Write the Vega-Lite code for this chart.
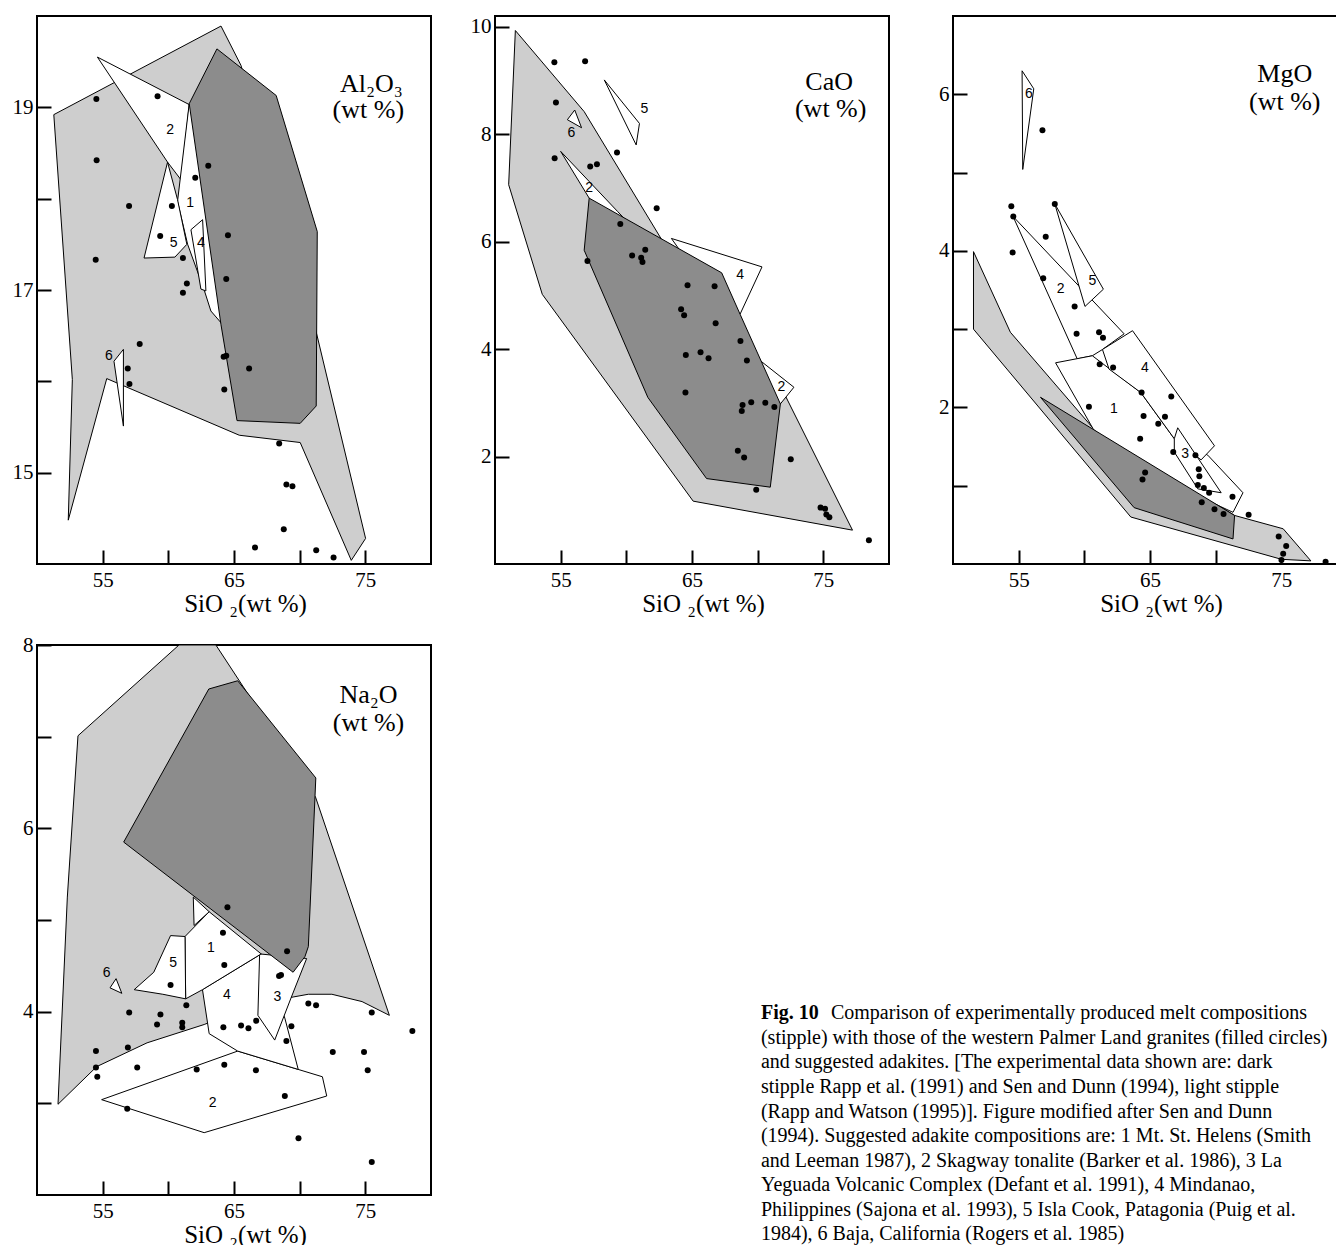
{
  "$schema": "https://vega.github.io/schema/vega-lite/v6.json",
  "background": "white",
  "padding": {"left": 11, "top": 14, "right": 0, "bottom": 0},
  "config": {
    "view": {"stroke": "black", "strokeWidth": 2},
    "font": "Liberation Serif",
    "axis": {"labelFont": "Liberation Serif", "labelFontSize": 21, "labelColor": "black", "tickColor": "black", "tickWidth": 2, "tickSize": -14, "domain": false, "grid": false, "titleFont": "Liberation Serif", "titleFontSize": 25, "titleFontWeight": "normal", "titleColor": "black"},
    "axisX": {"labelPadding": 19, "titlePadding": 1, "titleX": 208},
    "axisY": {"labelPadding": 18}
  },
  "datasets": {
    "poly": [
      {"p":"A","k":"L","g":"AL","i":0,"x":51.28,"y":18.92},{"p":"A","k":"L","g":"AL","i":1,"x":64.01,"y":19.89},{"p":"A","k":"L","g":"AL","i":2,"x":65.53,"y":19.46},{"p":"A","k":"L","g":"AL","i":3,"x":71.26,"y":16.54},{"p":"A","k":"L","g":"AL","i":4,"x":75.02,"y":14.28},{"p":"A","k":"L","g":"AL","i":5,"x":73.93,"y":14.04},{"p":"A","k":"L","g":"AL","i":6,"x":70.04,"y":15.33},{"p":"A","k":"L","g":"AL","i":7,"x":65.40,"y":15.41},{"p":"A","k":"L","g":"AL","i":8,"x":55.31,"y":16.03},{"p":"A","k":"L","g":"AL","i":9,"x":52.38,"y":14.48},{"p":"A","k":"L","g":"AL","i":10,"x":52.69,"y":16.02},{"p":"A","k":"L","g":"AL","i":11,"x":51.28,"y":18.92},
      {"p":"A","k":"W","g":"AW2","i":0,"x":54.60,"y":19.55},{"p":"A","k":"W","g":"AW2","i":1,"x":61.59,"y":19.03},{"p":"A","k":"W","g":"AW2","i":2,"x":61.0,"y":18.2},{"p":"A","k":"W","g":"AW2","i":3,"x":59.94,"y":18.40},{"p":"A","k":"W","g":"AW2","i":4,"x":54.60,"y":19.55},
      {"p":"A","k":"W","g":"AW1","i":0,"x":61.59,"y":19.04},{"p":"A","k":"W","g":"AW1","i":1,"x":60.70,"y":17.97},{"p":"A","k":"W","g":"AW1","i":2,"x":61.47,"y":17.50},{"p":"A","k":"W","g":"AW1","i":3,"x":62.73,"y":17.00},{"p":"A","k":"W","g":"AW1","i":4,"x":63.24,"y":16.77},{"p":"A","k":"W","g":"AW1","i":5,"x":64.14,"y":16.62},{"p":"A","k":"W","g":"AW1","i":6,"x":65.53,"y":17.99},{"p":"A","k":"W","g":"AW1","i":7,"x":62.86,"y":18.97},{"p":"A","k":"W","g":"AW1","i":8,"x":61.59,"y":19.04},
      {"p":"A","k":"W","g":"AW5","i":0,"x":59.94,"y":18.40},{"p":"A","k":"W","g":"AW5","i":1,"x":60.70,"y":17.99},{"p":"A","k":"W","g":"AW5","i":2,"x":61.41,"y":17.50},{"p":"A","k":"W","g":"AW5","i":3,"x":60.50,"y":17.36},{"p":"A","k":"W","g":"AW5","i":4,"x":58.15,"y":17.35},{"p":"A","k":"W","g":"AW5","i":5,"x":59.94,"y":18.40},
      {"p":"A","k":"W","g":"AW4","i":0,"x":61.72,"y":17.66},{"p":"A","k":"W","g":"AW4","i":1,"x":62.61,"y":17.77},{"p":"A","k":"W","g":"AW4","i":2,"x":62.86,"y":16.99},{"p":"A","k":"W","g":"AW4","i":3,"x":62.48,"y":17.01},{"p":"A","k":"W","g":"AW4","i":4,"x":61.72,"y":17.66},
      {"p":"A","k":"W","g":"AW6","i":0,"x":55.86,"y":16.22},{"p":"A","k":"W","g":"AW6","i":1,"x":56.58,"y":16.35},{"p":"A","k":"W","g":"AW6","i":2,"x":56.58,"y":15.51},{"p":"A","k":"W","g":"AW6","i":3,"x":55.86,"y":16.22},
      {"p":"A","k":"D","g":"AD","i":0,"x":63.70,"y":19.64},{"p":"A","k":"D","g":"AD","i":1,"x":68.21,"y":19.13},{"p":"A","k":"D","g":"AD","i":2,"x":71.34,"y":17.64},{"p":"A","k":"D","g":"AD","i":3,"x":71.26,"y":15.73},{"p":"A","k":"D","g":"AD","i":4,"x":70.04,"y":15.54},{"p":"A","k":"D","g":"AD","i":5,"x":65.23,"y":15.57},{"p":"A","k":"D","g":"AD","i":6,"x":64.01,"y":16.62},{"p":"A","k":"D","g":"AD","i":7,"x":61.59,"y":19.04},{"p":"A","k":"D","g":"AD","i":8,"x":63.70,"y":19.64},

      {"p":"C","k":"L","g":"CL","i":0,"x":51.55,"y":9.93},{"p":"C","k":"L","g":"CL","i":1,"x":56.79,"y":8.42},{"p":"C","k":"L","g":"CL","i":2,"x":62.66,"y":6.05},{"p":"C","k":"L","g":"CL","i":3,"x":72.11,"y":3.13},{"p":"C","k":"L","g":"CL","i":4,"x":77.22,"y":0.63},{"p":"C","k":"L","g":"CL","i":5,"x":65.09,"y":1.17},{"p":"C","k":"L","g":"CL","i":6,"x":53.60,"y":5.02},{"p":"C","k":"L","g":"CL","i":7,"x":51.04,"y":7.06},{"p":"C","k":"L","g":"CL","i":8,"x":51.55,"y":9.93},
      {"p":"C","k":"W","g":"CW2","i":0,"x":55.0,"y":7.68},{"p":"C","k":"W","g":"CW2","i":1,"x":59.34,"y":6.56},{"p":"C","k":"W","g":"CW2","i":2,"x":70.07,"y":3.81},{"p":"C","k":"W","g":"CW2","i":3,"x":72.76,"y":3.29},{"p":"C","k":"W","g":"CW2","i":4,"x":71.73,"y":2.98},{"p":"C","k":"W","g":"CW2","i":5,"x":57.17,"y":6.81},{"p":"C","k":"W","g":"CW2","i":6,"x":55.0,"y":7.68},
      {"p":"C","k":"W","g":"CW4","i":0,"x":63.43,"y":6.06},{"p":"C","k":"W","g":"CW4","i":1,"x":70.33,"y":5.53},{"p":"C","k":"W","g":"CW4","i":2,"x":68.66,"y":4.65},{"p":"C","k":"W","g":"CW4","i":3,"x":65.73,"y":5.27},{"p":"C","k":"W","g":"CW4","i":4,"x":63.43,"y":6.06},
      {"p":"C","k":"W","g":"CW5","i":0,"x":58.32,"y":9.01},{"p":"C","k":"W","g":"CW5","i":1,"x":61.0,"y":8.20},{"p":"C","k":"W","g":"CW5","i":2,"x":60.75,"y":7.80},{"p":"C","k":"W","g":"CW5","i":3,"x":58.32,"y":9.01},
      {"p":"C","k":"W","g":"CW6","i":0,"x":55.51,"y":8.27},{"p":"C","k":"W","g":"CW6","i":1,"x":56.07,"y":8.45},{"p":"C","k":"W","g":"CW6","i":2,"x":56.59,"y":8.12},{"p":"C","k":"W","g":"CW6","i":3,"x":55.51,"y":8.27},
      {"p":"C","k":"D","g":"CD","i":0,"x":57.17,"y":6.81},{"p":"C","k":"D","g":"CD","i":1,"x":67.26,"y":5.42},{"p":"C","k":"D","g":"CD","i":2,"x":68.66,"y":4.65},{"p":"C","k":"D","g":"CD","i":3,"x":71.73,"y":2.98},{"p":"C","k":"D","g":"CD","i":4,"x":70.96,"y":1.43},{"p":"C","k":"D","g":"CD","i":5,"x":66.11,"y":1.59},{"p":"C","k":"D","g":"CD","i":6,"x":61.64,"y":3.10},{"p":"C","k":"D","g":"CD","i":7,"x":56.79,"y":5.84},{"p":"C","k":"D","g":"CD","i":8,"x":57.17,"y":6.81},

      {"p":"M","k":"L","g":"ML","i":0,"x":51.56,"y":3.99},{"p":"M","k":"L","g":"ML","i":1,"x":54.37,"y":2.96},{"p":"M","k":"L","g":"ML","i":2,"x":60.69,"y":1.73},{"p":"M","k":"L","g":"ML","i":3,"x":71.44,"y":0.62},{"p":"M","k":"L","g":"ML","i":4,"x":75.14,"y":0.45},{"p":"M","k":"L","g":"ML","i":5,"x":77.25,"y":0.04},{"p":"M","k":"L","g":"ML","i":6,"x":75.01,"y":0.06},{"p":"M","k":"L","g":"ML","i":7,"x":63.54,"y":0.60},{"p":"M","k":"L","g":"ML","i":8,"x":51.56,"y":3.00},{"p":"M","k":"L","g":"ML","i":9,"x":51.56,"y":3.99},
      {"p":"M","k":"W","g":"MW2","i":0,"x":54.57,"y":4.44},{"p":"M","k":"W","g":"MW2","i":1,"x":63.03,"y":2.94},{"p":"M","k":"W","g":"MW2","i":2,"x":61.38,"y":2.74},{"p":"M","k":"W","g":"MW2","i":3,"x":60.61,"y":2.66},{"p":"M","k":"W","g":"MW2","i":4,"x":59.46,"y":2.62},{"p":"M","k":"W","g":"MW2","i":5,"x":54.57,"y":4.44},
      {"p":"M","k":"W","g":"MW5","i":0,"x":57.75,"y":4.60},{"p":"M","k":"W","g":"MW5","i":1,"x":61.45,"y":3.51},{"p":"M","k":"W","g":"MW5","i":2,"x":60.05,"y":3.29},{"p":"M","k":"W","g":"MW5","i":3,"x":57.75,"y":4.60},
      {"p":"M","k":"W","g":"MW6","i":0,"x":55.26,"y":6.30},{"p":"M","k":"W","g":"MW6","i":1,"x":56.15,"y":6.07},{"p":"M","k":"W","g":"MW6","i":2,"x":55.31,"y":5.04},{"p":"M","k":"W","g":"MW6","i":3,"x":55.26,"y":6.30},
      {"p":"M","k":"W","g":"MW1","i":0,"x":57.81,"y":2.57},{"p":"M","k":"W","g":"MW1","i":1,"x":60.61,"y":2.66},{"p":"M","k":"W","g":"MW1","i":2,"x":64.30,"y":2.19},{"p":"M","k":"W","g":"MW1","i":3,"x":66.85,"y":1.60},{"p":"M","k":"W","g":"MW1","i":4,"x":69.40,"y":1.39},{"p":"M","k":"W","g":"MW1","i":5,"x":72.08,"y":0.91},{"p":"M","k":"W","g":"MW1","i":6,"x":71.32,"y":0.66},{"p":"M","k":"W","g":"MW1","i":7,"x":64.30,"y":1.21},{"p":"M","k":"W","g":"MW1","i":8,"x":60.69,"y":1.72},{"p":"M","k":"W","g":"MW1","i":9,"x":57.81,"y":2.57},
      {"p":"M","k":"W","g":"MW4","i":0,"x":61.38,"y":2.74},{"p":"M","k":"W","g":"MW4","i":1,"x":63.67,"y":2.98},{"p":"M","k":"W","g":"MW4","i":2,"x":69.91,"y":1.51},{"p":"M","k":"W","g":"MW4","i":3,"x":68.89,"y":1.33},{"p":"M","k":"W","g":"MW4","i":4,"x":66.85,"y":1.60},{"p":"M","k":"W","g":"MW4","i":5,"x":64.30,"y":2.19},{"p":"M","k":"W","g":"MW4","i":6,"x":61.88,"y":2.49},{"p":"M","k":"W","g":"MW4","i":7,"x":61.38,"y":2.74},
      {"p":"M","k":"W","g":"MW3","i":0,"x":67.11,"y":1.74},{"p":"M","k":"W","g":"MW3","i":1,"x":70.42,"y":0.91},{"p":"M","k":"W","g":"MW3","i":2,"x":68.64,"y":0.96},{"p":"M","k":"W","g":"MW3","i":3,"x":66.85,"y":1.43},{"p":"M","k":"W","g":"MW3","i":4,"x":66.85,"y":1.60},{"p":"M","k":"W","g":"MW3","i":5,"x":67.11,"y":1.74},
      {"p":"M","k":"D","g":"MD","i":0,"x":56.66,"y":2.13},{"p":"M","k":"D","g":"MD","i":1,"x":71.44,"y":0.62},{"p":"M","k":"D","g":"MD","i":2,"x":71.32,"y":0.32},{"p":"M","k":"D","g":"MD","i":3,"x":63.79,"y":0.72},{"p":"M","k":"D","g":"MD","i":4,"x":56.66,"y":2.13},

      {"p":"N","k":"L","g":"NL","i":0,"x":60.81,"y":8.0},{"p":"N","k":"L","g":"NL","i":1,"x":63.62,"y":8.0},{"p":"N","k":"L","g":"NL","i":2,"x":71.21,"y":6.34},{"p":"N","k":"L","g":"NL","i":3,"x":76.83,"y":3.96},{"p":"N","k":"L","g":"NL","i":4,"x":74.75,"y":4.11},{"p":"N","k":"L","g":"NL","i":5,"x":72.45,"y":4.19},{"p":"N","k":"L","g":"NL","i":6,"x":70.66,"y":4.19},{"p":"N","k":"L","g":"NL","i":7,"x":69.50,"y":4.16},{"p":"N","k":"L","g":"NL","i":8,"x":66.05,"y":4.05},{"p":"N","k":"L","g":"NL","i":9,"x":62.73,"y":3.86},{"p":"N","k":"L","g":"NL","i":10,"x":58.38,"y":3.66},{"p":"N","k":"L","g":"NL","i":11,"x":54.54,"y":3.40},{"p":"N","k":"L","g":"NL","i":12,"x":51.6,"y":2.99},{"p":"N","k":"L","g":"NL","i":13,"x":52.31,"y":5.25},{"p":"N","k":"L","g":"NL","i":14,"x":53.12,"y":7.01},{"p":"N","k":"L","g":"NL","i":15,"x":60.81,"y":8.0},
      {"p":"N","k":"W","g":"NW2","i":0,"x":54.92,"y":3.04},{"p":"N","k":"W","g":"NW2","i":1,"x":65.28,"y":3.57},{"p":"N","k":"W","g":"NW2","i":2,"x":71.73,"y":3.29},{"p":"N","k":"W","g":"NW2","i":3,"x":72.06,"y":3.08},{"p":"N","k":"W","g":"NW2","i":4,"x":62.73,"y":2.68},{"p":"N","k":"W","g":"NW2","i":5,"x":54.92,"y":3.04},
      {"p":"N","k":"W","g":"NW4","i":0,"x":62.60,"y":4.24},{"p":"N","k":"W","g":"NW4","i":1,"x":67.07,"y":4.63},{"p":"N","k":"W","g":"NW4","i":2,"x":68.87,"y":3.93},{"p":"N","k":"W","g":"NW4","i":3,"x":69.89,"y":3.37},{"p":"N","k":"W","g":"NW4","i":4,"x":65.28,"y":3.57},{"p":"N","k":"W","g":"NW4","i":5,"x":63.11,"y":3.76},{"p":"N","k":"W","g":"NW4","i":6,"x":62.60,"y":4.24},
      {"p":"N","k":"W","g":"NW3","i":0,"x":66.95,"y":4.63},{"p":"N","k":"W","g":"NW3","i":1,"x":70.53,"y":4.58},{"p":"N","k":"W","g":"NW3","i":2,"x":69.37,"y":4.16},{"p":"N","k":"W","g":"NW3","i":3,"x":68.10,"y":3.69},{"p":"N","k":"W","g":"NW3","i":4,"x":66.82,"y":3.96},{"p":"N","k":"W","g":"NW3","i":5,"x":66.95,"y":4.63},
      {"p":"N","k":"W","g":"NW1","i":0,"x":61.27,"y":4.82},{"p":"N","k":"W","g":"NW1","i":1,"x":63.11,"y":5.09},{"p":"N","k":"W","g":"NW1","i":2,"x":67.07,"y":4.63},{"p":"N","k":"W","g":"NW1","i":3,"x":62.60,"y":4.24},{"p":"N","k":"W","g":"NW1","i":4,"x":61.32,"y":4.14},{"p":"N","k":"W","g":"NW1","i":5,"x":61.27,"y":4.82},
      {"p":"N","k":"W","g":"NW1b","i":0,"x":61.9,"y":5.25},{"p":"N","k":"W","g":"NW1b","i":1,"x":63.11,"y":5.09},{"p":"N","k":"W","g":"NW1b","i":2,"x":61.96,"y":4.94},{"p":"N","k":"W","g":"NW1b","i":3,"x":61.9,"y":5.25},
      {"p":"N","k":"W","g":"NW5","i":0,"x":60.17,"y":4.83},{"p":"N","k":"W","g":"NW5","i":1,"x":61.27,"y":4.82},{"p":"N","k":"W","g":"NW5","i":2,"x":61.32,"y":4.14},{"p":"N","k":"W","g":"NW5","i":3,"x":59.58,"y":4.19},{"p":"N","k":"W","g":"NW5","i":4,"x":57.40,"y":4.24},{"p":"N","k":"W","g":"NW5","i":5,"x":58.89,"y":4.43},{"p":"N","k":"W","g":"NW5","i":6,"x":60.17,"y":4.83},
      {"p":"N","k":"W","g":"NW6","i":0,"x":55.56,"y":4.26},{"p":"N","k":"W","g":"NW6","i":1,"x":56.02,"y":4.36},{"p":"N","k":"W","g":"NW6","i":2,"x":56.46,"y":4.20},{"p":"N","k":"W","g":"NW6","i":3,"x":55.56,"y":4.26},
      {"p":"N","k":"D","g":"ND","i":0,"x":63.08,"y":7.52},{"p":"N","k":"D","g":"ND","i":1,"x":65.28,"y":7.61},{"p":"N","k":"D","g":"ND","i":2,"x":71.23,"y":6.55},{"p":"N","k":"D","g":"ND","i":3,"x":70.66,"y":4.71},{"p":"N","k":"D","g":"ND","i":4,"x":70.40,"y":4.60},{"p":"N","k":"D","g":"ND","i":5,"x":69.50,"y":4.43},{"p":"N","k":"D","g":"ND","i":6,"x":56.6,"y":5.85},{"p":"N","k":"D","g":"ND","i":7,"x":63.08,"y":7.52}
    ],
    "pts": [
      {"p":"A","x":54.52,"y":19.09},{"p":"A","x":59.18,"y":19.12},{"p":"A","x":54.54,"y":18.42},{"p":"A","x":63.04,"y":18.36},{"p":"A","x":62.05,"y":18.23},{"p":"A","x":57.01,"y":17.92},{"p":"A","x":60.27,"y":17.92},{"p":"A","x":59.38,"y":17.59},{"p":"A","x":64.54,"y":17.60},{"p":"A","x":54.47,"y":17.33},{"p":"A","x":61.11,"y":17.35},{"p":"A","x":61.41,"y":17.07},{"p":"A","x":61.11,"y":16.97},{"p":"A","x":64.41,"y":17.12},{"p":"A","x":57.82,"y":16.41},{"p":"A","x":56.91,"y":16.14},{"p":"A","x":57.04,"y":15.97},{"p":"A","x":64.21,"y":16.27},{"p":"A","x":64.41,"y":16.28},{"p":"A","x":66.15,"y":16.14},{"p":"A","x":64.26,"y":15.91},{"p":"A","x":68.44,"y":15.32},{"p":"A","x":68.99,"y":14.87},{"p":"A","x":69.45,"y":14.85},{"p":"A","x":68.79,"y":14.38},{"p":"A","x":66.60,"y":14.18},{"p":"A","x":71.26,"y":14.15},{"p":"A","x":72.58,"y":14.07},
      {"p":"C","x":54.52,"y":9.34},{"p":"C","x":56.86,"y":9.36},{"p":"C","x":54.64,"y":8.59},{"p":"C","x":59.29,"y":7.66},{"p":"C","x":54.54,"y":7.55},{"p":"C","x":57.25,"y":7.40},{"p":"C","x":57.76,"y":7.44},{"p":"C","x":62.31,"y":6.62},{"p":"C","x":59.54,"y":6.33},{"p":"C","x":57.04,"y":5.64},{"p":"C","x":60.44,"y":5.74},{"p":"C","x":61.44,"y":5.85},{"p":"C","x":61.13,"y":5.70},{"p":"C","x":61.23,"y":5.62},{"p":"C","x":64.66,"y":5.19},{"p":"C","x":66.72,"y":5.17},{"p":"C","x":64.17,"y":4.74},{"p":"C","x":64.40,"y":4.63},{"p":"C","x":66.80,"y":4.48},{"p":"C","x":68.69,"y":4.15},{"p":"C","x":64.53,"y":3.89},{"p":"C","x":65.65,"y":3.94},{"p":"C","x":66.26,"y":3.83},{"p":"C","x":69.18,"y":3.79},{"p":"C","x":64.50,"y":3.19},{"p":"C","x":68.85,"y":2.96},{"p":"C","x":68.79,"y":2.85},{"p":"C","x":69.51,"y":3.01},{"p":"C","x":70.58,"y":3.00},{"p":"C","x":71.27,"y":2.92},{"p":"C","x":68.49,"y":2.11},{"p":"C","x":68.97,"y":1.98},{"p":"C","x":72.52,"y":1.95},{"p":"C","x":69.89,"y":1.38},{"p":"C","x":74.79,"y":1.05},{"p":"C","x":75.13,"y":1.03},{"p":"C","x":75.23,"y":0.92},{"p":"C","x":75.46,"y":0.87},{"p":"C","x":78.47,"y":0.44},
      {"p":"M","x":56.81,"y":5.54},{"p":"M","x":54.44,"y":4.57},{"p":"M","x":54.59,"y":4.44},{"p":"M","x":57.75,"y":4.60},{"p":"M","x":57.06,"y":4.18},{"p":"M","x":54.54,"y":3.98},{"p":"M","x":56.87,"y":3.65},{"p":"M","x":59.26,"y":3.29},{"p":"M","x":59.41,"y":2.94},{"p":"M","x":61.12,"y":2.96},{"p":"M","x":61.42,"y":2.89},{"p":"M","x":61.17,"y":2.55},{"p":"M","x":62.19,"y":2.51},{"p":"M","x":64.36,"y":2.19},{"p":"M","x":66.62,"y":2.14},{"p":"M","x":60.35,"y":2.01},{"p":"M","x":64.51,"y":1.89},{"p":"M","x":66.14,"y":1.88},{"p":"M","x":65.63,"y":1.79},{"p":"M","x":64.25,"y":1.60},{"p":"M","x":66.77,"y":1.43},{"p":"M","x":68.46,"y":1.39},{"p":"M","x":64.63,"y":1.17},{"p":"M","x":64.43,"y":1.08},{"p":"M","x":68.71,"y":1.21},{"p":"M","x":68.76,"y":1.12},{"p":"M","x":68.64,"y":1.01},{"p":"M","x":69.10,"y":0.97},{"p":"M","x":69.50,"y":0.91},{"p":"M","x":71.28,"y":0.86},{"p":"M","x":68.94,"y":0.79},{"p":"M","x":69.91,"y":0.70},{"p":"M","x":70.60,"y":0.64},{"p":"M","x":72.51,"y":0.63},{"p":"M","x":74.80,"y":0.35},{"p":"M","x":75.37,"y":0.23},{"p":"M","x":75.14,"y":0.13},{"p":"M","x":75.01,"y":0.05},{"p":"M","x":78.37,"y":0.03},
      {"p":"N","x":64.5,"y":5.14},{"p":"N","x":64.16,"y":4.86},{"p":"N","x":69.04,"y":4.66},{"p":"N","x":64.26,"y":4.51},{"p":"N","x":68.43,"y":4.39},{"p":"N","x":68.58,"y":4.40},{"p":"N","x":60.17,"y":4.29},{"p":"N","x":61.37,"y":4.07},{"p":"N","x":70.66,"y":4.09},{"p":"N","x":71.25,"y":4.07},{"p":"N","x":57.02,"y":3.99},{"p":"N","x":59.40,"y":3.97},{"p":"N","x":75.49,"y":3.99},{"p":"N","x":61.06,"y":3.88},{"p":"N","x":61.06,"y":3.83},{"p":"N","x":59.14,"y":3.86},{"p":"N","x":64.19,"y":3.83},{"p":"N","x":65.54,"y":3.85},{"p":"N","x":66.10,"y":3.82},{"p":"N","x":66.69,"y":3.90},{"p":"N","x":69.37,"y":3.84},{"p":"N","x":78.58,"y":3.79},{"p":"N","x":68.99,"y":3.68},{"p":"N","x":54.49,"y":3.57},{"p":"N","x":56.92,"y":3.61},{"p":"N","x":54.49,"y":3.39},{"p":"N","x":54.59,"y":3.29},{"p":"N","x":57.63,"y":3.39},{"p":"N","x":62.16,"y":3.37},{"p":"N","x":64.26,"y":3.42},{"p":"N","x":66.67,"y":3.36},{"p":"N","x":72.52,"y":3.56},{"p":"N","x":74.90,"y":3.56},{"p":"N","x":75.18,"y":3.36},{"p":"N","x":68.87,"y":3.08},{"p":"N","x":56.87,"y":2.94},{"p":"N","x":69.91,"y":2.62},{"p":"N","x":75.49,"y":2.36}
    ],
    "nl": [
      {"p":"A","x":60.14,"y":18.75,"t":"2"},{"p":"A","x":61.66,"y":17.95,"t":"1"},{"p":"A","x":60.40,"y":17.51,"t":"5"},{"p":"A","x":62.48,"y":17.51,"t":"4"},{"p":"A","x":55.48,"y":16.28,"t":"6"},
      {"p":"C","x":61.38,"y":8.47,"t":"5"},{"p":"C","x":55.82,"y":8.02,"t":"6"},{"p":"C","x":68.66,"y":5.38,"t":"4"},{"p":"C","x":57.17,"y":7.0,"t":"2"},{"p":"C","x":71.8,"y":3.3,"t":"2"},
      {"p":"M","x":55.77,"y":6.0,"t":"6"},{"p":"M","x":58.19,"y":3.51,"t":"2"},{"p":"M","x":60.61,"y":3.62,"t":"5"},{"p":"M","x":62.26,"y":1.98,"t":"1"},{"p":"M","x":64.62,"y":2.51,"t":"4"},{"p":"M","x":67.67,"y":1.40,"t":"3"},
      {"p":"N","x":55.31,"y":4.42,"t":"6"},{"p":"N","x":60.37,"y":4.53,"t":"5"},{"p":"N","x":63.24,"y":4.69,"t":"1"},{"p":"N","x":64.46,"y":4.18,"t":"4"},{"p":"N","x":68.30,"y":4.16,"t":"3"},{"p":"N","x":63.37,"y":3.0,"t":"2"}
    ],
    "ttl": [
      {"p":"A","x":75.46,"y":19.26,"t":"Al₂O₃"},{"p":"A","x":75.23,"y":18.97,"t":"(wt %)"},
      {"p":"C","x":75.44,"y":8.98,"t":"CaO"},{"p":"C","x":75.56,"y":8.47,"t":"(wt %)"},
      {"p":"M","x":75.26,"y":6.26,"t":"MgO"},{"p":"M","x":75.26,"y":5.90,"t":"(wt %)"},
      {"p":"N","x":75.24,"y":7.46,"t":"Na₂O"},{"p":"N","x":75.24,"y":7.15,"t":"(wt %)"}
    ],
    "cap": [
      {"k":0,"s":"b","t":"Fig. 10"},
      {"k":0,"s":"r","t":"Comparison of experimentally produced melt compositions"},
      {"k":1,"s":"n","t":"(stipple) with those of the western Palmer Land granites (filled circles)"},
      {"k":2,"s":"n","t":"and suggested adakites. [The experimental data shown are: dark"},
      {"k":3,"s":"n","t":"stipple Rapp et al. (1991) and Sen and Dunn (1994), light stipple"},
      {"k":4,"s":"n","t":"(Rapp and Watson (1995)]. Figure modified after Sen and Dunn"},
      {"k":5,"s":"n","t":"(1994). Suggested adakite compositions are: 1 Mt. St. Helens (Smith"},
      {"k":6,"s":"n","t":"and Leeman 1987), 2 Skagway tonalite (Barker et al. 1986), 3 La"},
      {"k":7,"s":"n","t":"Yeguada Volcanic Complex (Defant et al. 1991), 4 Mindanao,"},
      {"k":8,"s":"n","t":"Philippines (Sajona et al. 1993), 5 Isla Cook, Patagonia (Puig et al."},
      {"k":9,"s":"n","t":"1984), 6 Baja, California (Rogers et al. 1985)"}
    ]
  },
  "concat": [
    {
      "width": 394, "height": 548,
      "encoding": {
        "x": {"field": "x", "type": "quantitative", "scale": {"domain": [50, 80], "nice": false, "zero": false}, "axis": {"values": [55, 60, 65, 70, 75], "labelExpr": "datum.value % 10 == 5 ? datum.label : ''", "title": "SiO ₂(wt %)"}},
        "y": {"field": "y", "type": "quantitative", "scale": {"domain": [14, 20], "nice": false, "zero": false}, "axis": {"values": [15, 16, 17, 18, 19], "labelExpr": "datum.value % 2 == 1 ? datum.label : ''", "title": null}}
      },
      "layer": [
        {"data": {"name": "poly"}, "transform": [{"filter": "datum.p == 'A' && datum.k == 'L'"}], "mark": {"type": "line", "fill": "#cecece", "stroke": "black", "strokeWidth": 1, "clip": true}, "encoding": {"detail": {"field": "g"}, "order": {"field": "i", "type": "quantitative"}}},
        {"data": {"name": "poly"}, "transform": [{"filter": "datum.p == 'A' && datum.k == 'W'"}], "mark": {"type": "line", "fill": "white", "stroke": "black", "strokeWidth": 1, "clip": true}, "encoding": {"detail": {"field": "g"}, "order": {"field": "i", "type": "quantitative"}}},
        {"data": {"name": "poly"}, "transform": [{"filter": "datum.p == 'A' && datum.k == 'D'"}], "mark": {"type": "line", "fill": "#8c8c8c", "stroke": "black", "strokeWidth": 1, "clip": true}, "encoding": {"detail": {"field": "g"}, "order": {"field": "i", "type": "quantitative"}}},
        {"data": {"name": "pts"}, "transform": [{"filter": "datum.p == 'A'"}], "mark": {"type": "circle", "size": 36, "color": "black", "opacity": 1}},
        {"data": {"name": "nl"}, "transform": [{"filter": "datum.p == 'A'"}], "mark": {"type": "text", "font": "Liberation Sans", "fontSize": 14, "color": "black"}, "encoding": {"text": {"field": "t"}}},
        {"data": {"name": "ttl"}, "transform": [{"filter": "datum.p == 'A'"}], "mark": {"type": "text", "font": "Liberation Serif", "fontSize": 26, "color": "black"}, "encoding": {"text": {"field": "t"}}}
      ]
    },
    {
      "width": 394, "height": 548,
      "encoding": {
        "x": {"field": "x", "type": "quantitative", "scale": {"domain": [50, 80], "nice": false, "zero": false}, "axis": {"values": [55, 60, 65, 70, 75], "labelExpr": "datum.value % 10 == 5 ? datum.label : ''", "title": "SiO ₂(wt %)"}},
        "y": {"field": "y", "type": "quantitative", "scale": {"domain": [0, 10.2], "nice": false, "zero": false}, "axis": {"values": [2, 4, 6, 8, 10], "title": null}}
      },
      "layer": [
        {"data": {"name": "poly"}, "transform": [{"filter": "datum.p == 'C' && datum.k == 'L'"}], "mark": {"type": "line", "fill": "#cecece", "stroke": "black", "strokeWidth": 1, "clip": true}, "encoding": {"detail": {"field": "g"}, "order": {"field": "i", "type": "quantitative"}}},
        {"data": {"name": "poly"}, "transform": [{"filter": "datum.p == 'C' && datum.k == 'W'"}], "mark": {"type": "line", "fill": "white", "stroke": "black", "strokeWidth": 1, "clip": true}, "encoding": {"detail": {"field": "g"}, "order": {"field": "i", "type": "quantitative"}}},
        {"data": {"name": "poly"}, "transform": [{"filter": "datum.p == 'C' && datum.k == 'D'"}], "mark": {"type": "line", "fill": "#8c8c8c", "stroke": "black", "strokeWidth": 1, "clip": true}, "encoding": {"detail": {"field": "g"}, "order": {"field": "i", "type": "quantitative"}}},
        {"data": {"name": "pts"}, "transform": [{"filter": "datum.p == 'C'"}], "mark": {"type": "circle", "size": 36, "color": "black", "opacity": 1}},
        {"data": {"name": "nl"}, "transform": [{"filter": "datum.p == 'C'"}], "mark": {"type": "text", "font": "Liberation Sans", "fontSize": 14, "color": "black"}, "encoding": {"text": {"field": "t"}}},
        {"data": {"name": "ttl"}, "transform": [{"filter": "datum.p == 'C'"}], "mark": {"type": "text", "font": "Liberation Serif", "fontSize": 26, "color": "black"}, "encoding": {"text": {"field": "t"}}}
      ]
    },
    {
      "width": 394, "height": 548,
      "encoding": {
        "x": {"field": "x", "type": "quantitative", "scale": {"domain": [50, 80], "nice": false, "zero": false}, "axis": {"values": [55, 60, 65, 70, 75], "labelExpr": "datum.value % 10 == 5 ? datum.label : ''", "title": "SiO ₂(wt %)"}},
        "y": {"field": "y", "type": "quantitative", "scale": {"domain": [0, 7], "nice": false, "zero": false}, "axis": {"values": [1, 2, 3, 4, 5, 6], "labelExpr": "datum.value % 2 == 0 ? datum.label : ''", "title": null}}
      },
      "layer": [
        {"data": {"name": "poly"}, "transform": [{"filter": "datum.p == 'M' && datum.k == 'L'"}], "mark": {"type": "line", "fill": "#cecece", "stroke": "black", "strokeWidth": 1, "clip": true}, "encoding": {"detail": {"field": "g"}, "order": {"field": "i", "type": "quantitative"}}},
        {"data": {"name": "poly"}, "transform": [{"filter": "datum.p == 'M' && datum.k == 'W'"}], "mark": {"type": "line", "fill": "white", "stroke": "black", "strokeWidth": 1, "clip": true}, "encoding": {"detail": {"field": "g"}, "order": {"field": "i", "type": "quantitative"}}},
        {"data": {"name": "poly"}, "transform": [{"filter": "datum.p == 'M' && datum.k == 'D'"}], "mark": {"type": "line", "fill": "#8c8c8c", "stroke": "black", "strokeWidth": 1, "clip": true}, "encoding": {"detail": {"field": "g"}, "order": {"field": "i", "type": "quantitative"}}},
        {"data": {"name": "pts"}, "transform": [{"filter": "datum.p == 'M'"}], "mark": {"type": "circle", "size": 36, "color": "black", "opacity": 1}},
        {"data": {"name": "nl"}, "transform": [{"filter": "datum.p == 'M'"}], "mark": {"type": "text", "font": "Liberation Sans", "fontSize": 14, "color": "black"}, "encoding": {"text": {"field": "t"}}},
        {"data": {"name": "ttl"}, "transform": [{"filter": "datum.p == 'M'"}], "mark": {"type": "text", "font": "Liberation Serif", "fontSize": 26, "color": "black"}, "encoding": {"text": {"field": "t"}}}
      ]
    },
    {
      "width": 394, "height": 550,
      "encoding": {
        "x": {"field": "x", "type": "quantitative", "scale": {"domain": [50, 80], "nice": false, "zero": false}, "axis": {"values": [55, 60, 65, 70, 75], "labelExpr": "datum.value % 10 == 5 ? datum.label : ''", "title": "SiO ₂(wt %)"}},
        "y": {"field": "y", "type": "quantitative", "scale": {"domain": [2, 8], "nice": false, "zero": false}, "axis": {"values": [3, 4, 5, 6, 7, 8], "labelExpr": "datum.value % 2 == 0 ? datum.label : ''", "title": null}}
      },
      "layer": [
        {"data": {"name": "poly"}, "transform": [{"filter": "datum.p == 'N' && datum.k == 'L'"}], "mark": {"type": "line", "fill": "#cecece", "stroke": "black", "strokeWidth": 1, "clip": true}, "encoding": {"detail": {"field": "g"}, "order": {"field": "i", "type": "quantitative"}}},
        {"data": {"name": "poly"}, "transform": [{"filter": "datum.p == 'N' && datum.k == 'W'"}], "mark": {"type": "line", "fill": "white", "stroke": "black", "strokeWidth": 1, "clip": true}, "encoding": {"detail": {"field": "g"}, "order": {"field": "i", "type": "quantitative"}}},
        {"data": {"name": "poly"}, "transform": [{"filter": "datum.p == 'N' && datum.k == 'D'"}], "mark": {"type": "line", "fill": "#8c8c8c", "stroke": "black", "strokeWidth": 1, "clip": true}, "encoding": {"detail": {"field": "g"}, "order": {"field": "i", "type": "quantitative"}}},
        {"data": {"name": "pts"}, "transform": [{"filter": "datum.p == 'N'"}], "mark": {"type": "circle", "size": 36, "color": "black", "opacity": 1}},
        {"data": {"name": "nl"}, "transform": [{"filter": "datum.p == 'N'"}], "mark": {"type": "text", "font": "Liberation Sans", "fontSize": 14, "color": "black"}, "encoding": {"text": {"field": "t"}}},
        {"data": {"name": "ttl"}, "transform": [{"filter": "datum.p == 'N'"}], "mark": {"type": "text", "font": "Liberation Serif", "fontSize": 26, "color": "black"}, "encoding": {"text": {"field": "t"}}}
      ]
    },
    {
      "width": 394, "height": 550,
      "view": {"stroke": null},
      "data": {"name": "cap"},
      "encoding": {
        "x": {"datum": 0, "type": "quantitative", "scale": {"domain": [-0.675, 0.325], "zero": false, "nice": false}, "axis": null},
        "y": {"field": "k", "type": "quantitative", "scale": {"domain": [-15, 7.4], "reverse": true, "zero": false, "nice": false}, "axis": null}
      },
      "layer": [
        {"transform": [{"filter": "datum.s == 'b'"}], "mark": {"type": "text", "align": "left", "font": "Liberation Serif", "fontSize": 20, "fontWeight": "bold", "color": "black"}, "encoding": {"text": {"field": "t"}}},
        {"transform": [{"filter": "datum.s == 'r'"}], "mark": {"type": "text", "align": "left", "dx": 70, "font": "Liberation Serif", "fontSize": 20, "color": "black"}, "encoding": {"text": {"field": "t"}}},
        {"transform": [{"filter": "datum.s == 'n'"}], "mark": {"type": "text", "align": "left", "font": "Liberation Serif", "fontSize": 20, "color": "black"}, "encoding": {"text": {"field": "t"}}}
      ]
    }
  ],
  "columns": 3,
  "spacing": {"row": 81, "column": 64},
  "bounds": "flush"
}
